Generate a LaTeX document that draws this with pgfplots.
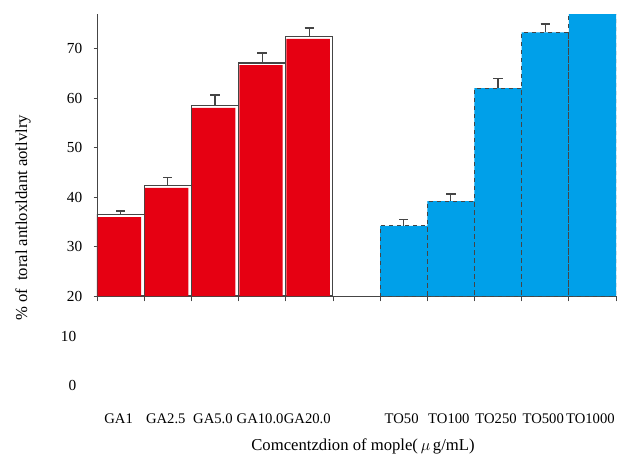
\documentclass[border=0pt]{standalone}
\usepackage{pgfplots}
\pgfplotsset{compat=1.18}
\usepackage{pgfplotstable}
\usepackage{fontspec}
\setmainfont{Liberation Serif}
\definecolor{gared}{HTML}{E60012}
\definecolor{toblue}{HTML}{00A0E9}
\definecolor{edge}{HTML}{454545}
\pgfplotstableread{
x y e
0 36.4 0.8
1 42.3 1.6
2 58.5 2.1
3 67.1 2.0
4 72.4 1.8
}\gadata
\pgfplotstableread{
x y e
6 34.2 1.3
7 39.2 1.4
8 62.0 2.0
9 73.3 1.7
10 80.0 1.8
}\todata
\begin{document}
\begin{tikzpicture}[font=\fontsize{11.5}{13.8}\selectfont]
\useasboundingbox (-72.75pt,-119.25pt) rectangle (390pt,222pt);
\begin{axis}[
  scale only axis,
  width=389.25pt, height=211.5pt,
  xmin=-0.5, xmax=10.5,
  ymin=20, ymax=77,
  axis lines*=left,
  axis line style={edge, line width=0.7pt},
  ytick={20,30,...,70},
  xtick={0,1,2,3,4,6,7,8,9,10},
  xticklabels={GA1,GA2.5,GA5.0,GA10.0,GA20.0,TO50,TO100,TO250,TO500,TO1000},
  minor xtick={-0.5,0.5,...,10.5},
  tick align=outside,
  major x tick style={draw=none},
  minor tick length=4pt,
  major tick length=2.5pt,
  tick style={edge, line width=0.6pt},
  xticklabel style={yshift=-82pt, xshift=-1.5pt, font=\fontsize{11}{13}\selectfont},
  yticklabel style={xshift=-5pt},
  /pgf/number format/assume math mode=true,
  ybar, bar shift=0pt,
  clip=true,
]
% GA outline bars with error bars
\addplot[fill=white, draw=edge, line width=0.8pt, bar width=1,
  error bars/.cd, y dir=plus, y explicit, error mark=-,
  error bar style={edge, line width=0.9pt},
  error mark options={edge, rotate=90, line width=1pt, mark size=3.5pt}]
  table[x=x, y=y, y error=e] {\gadata};
% GA fills
\addplot[fill=gared, draw=none, bar width=0.92, bar shift=-0.025]
  table[x=x, y expr=\thisrow{y}-0.45] {\gadata};
% TO bars
\addplot[fill=toblue, draw=edge, dashed, line width=0.6pt, bar width=1,
  error bars/.cd, y dir=plus, y explicit, error mark=-,
  error bar style={edge, solid, line width=0.9pt},
  error mark options={edge, solid, rotate=90, line width=1pt, mark size=3.5pt}]
  table[x=x, y=y, y error=e] {\todata};
\end{axis}
\node[anchor=east] at (-12pt,-30pt) {10};
\node[anchor=east] at (-12pt,-66.75pt) {0};
\node[rotate=90, font=\fontsize{12.5}{15}\selectfont] at (-55.5pt,58.5pt) {\% of\ \ toral antloxldant aotlvlry};
\node[font=\fontsize{12.5}{15}\selectfont] at (199.5pt,-112.5pt) {Comcentzdion of mople(\,$\mu$\,g/mL)};
\end{tikzpicture}
\end{document}
